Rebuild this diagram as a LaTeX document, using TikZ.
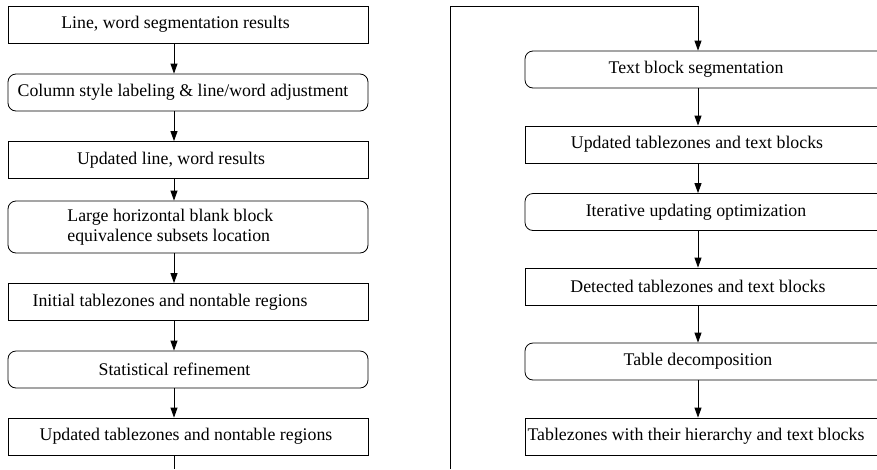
\documentclass[tikz,border=0pt]{standalone}
\usepackage{fontspec}
\setmainfont{Liberation Serif}
\usetikzlibrary{arrows.meta}
\begin{document}
\begin{tikzpicture}[x=1pt,y=-1pt,
  line width=0.8pt,
  every node/.style={font=\fontsize{17.8}{20.5}\selectfont},
  rectbox/.style={draw, rectangle, minimum width=360pt, minimum height=37pt, inner sep=0pt},
  roundbox/.style={rectbox, rounded corners=8pt},
  lbl/.style={inner sep=0pt, anchor=center},
  arr/.style={-{Triangle[length=10pt,width=7pt]}}
]
\useasboundingbox (0,0) rectangle (877,469);
\clip (0,0) rectangle (877,469);
% left column
\node[rectbox]  (L1) at (188,24.5) {};
\node[roundbox] (L2) at (188,92.5) {};
\node[rectbox]  (L3) at (188,160) {};
\node[roundbox, minimum height=52pt] (L4) at (188,227) {};
\node[rectbox]  (L5) at (188,302) {};
\node[roundbox] (L6) at (188,369.5) {};
\node[rectbox]  (L7) at (188,436.5) {};
\coordinate (la) at (174,0);
\coordinate (lend) at (174,469);
\node[lbl] (t1) at (175.5,24.5) {Line, word segmentation results};
\node[lbl] (t2) at (183,92.5) {Column style labeling \& line/word adjustment};
\node[lbl] (t3) at (171,160) {Updated line, word results};
\node[lbl, anchor=west, align=left] (t4) at (67,227) {Large horizontal blank block\\equivalence subsets location};
\node[lbl] (t5) at (170,302) {Initial tablezones and nontable regions};
\node[lbl] (t6) at (174.5,369.5) {Statistical refinement};
\node[lbl] (t7) at (186,436.5) {Updated tablezones and nontable regions};
\draw[arr] (L1.south -| la) -- (L2.north -| la);
\draw[arr] (L2.south -| la) -- (L3.north -| la);
\draw[arr] (L3.south -| la) -- (L4.north -| la);
\draw[arr] (L4.south -| la) -- (L5.north -| la);
\draw[arr] (L5.south -| la) -- (L6.north -| la);
\draw[arr] (L6.south -| la) -- (L7.north -| la);
\draw (L7.south -| la) -- (lend);
% right column
\node[roundbox] (R1) at (705,69.5) {};
\node[rectbox]  (R2) at (705,144.5) {};
\node[roundbox] (R3) at (705,212) {};
\node[rectbox]  (R4) at (705,286.5) {};
\node[roundbox] (R5) at (705,361.5) {};
\node[rectbox]  (R6) at (705,436.5) {};
\coordinate (ra) at (698,0);
\coordinate (rstart) at (450,469);
\coordinate (rtop) at (450,6);
\coordinate (rturn) at (698,6);
\node[lbl] (s1) at (696,69.5) {Text block segmentation};
\node[lbl] (s2) at (697,144.5) {Updated tablezones and text blocks};
\node[lbl] (s3) at (696,212) {Iterative updating optimization};
\node[lbl] (s4) at (698,286.5) {Detected tablezones and text blocks};
\node[lbl] (s5) at (698,361.5) {Table decomposition};
\node[lbl] (s6) at (696,436.5) {Tablezones with their hierarchy and text blocks};
\draw[arr] (rstart) -- (rtop) -- (rturn) -- (R1.north -| ra);
\draw[arr] (R1.south -| ra) -- (R2.north -| ra);
\draw[arr] (R2.south -| ra) -- (R3.north -| ra);
\draw[arr] (R3.south -| ra) -- (R4.north -| ra);
\draw[arr] (R4.south -| ra) -- (R5.north -| ra);
\draw[arr] (R5.south -| ra) -- (R6.north -| ra);
\end{tikzpicture}
\end{document}
